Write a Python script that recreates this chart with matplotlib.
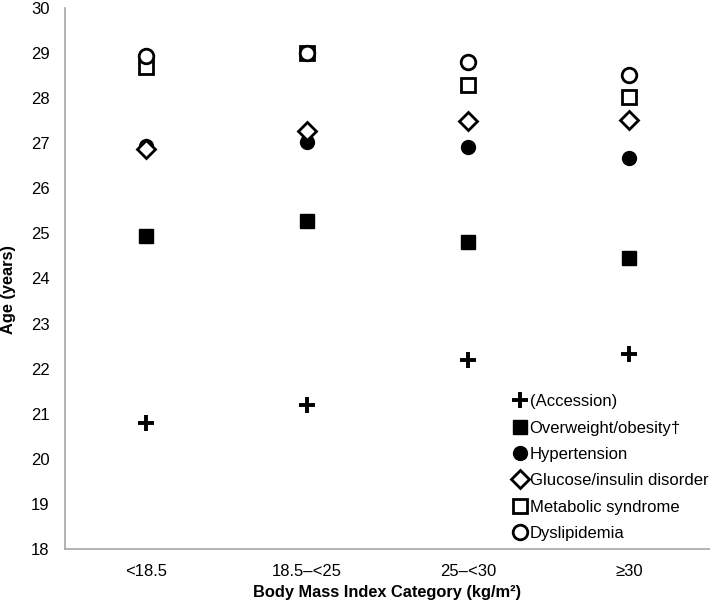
import matplotlib
matplotlib.use("Agg")
import matplotlib.pyplot as plt

plt.rcParams['font.family'] = ['Liberation Sans', 'DejaVu Sans']

categories = ["<18.5", "18.5\u2013<25", "25\u2013<30", "\u226530"]
accession = [20.79, 21.2, 22.2, 22.32]
overweight = [24.95, 25.27, 24.8, 24.45]
hypertension = [26.93, 27.02, 26.92, 26.67]
glucose = [26.88, 27.28, 27.5, 27.52]
metabolic = [28.7, 29.0, 28.3, 28.03]
dyslipidemia = [28.93, 29.0, 28.8, 28.52]

series = [
    ("(Accession)", accession, dict(marker='+', markersize=12, markeredgewidth=2.8, color='black')),
    ("Overweight/obesity\u2020", overweight, dict(marker='s', markersize=10.5, color='black', markeredgecolor='black')),
    ("Hypertension", hypertension, dict(marker='o', markersize=10, color='black', markeredgecolor='black')),
    ("Glucose/insulin disorder", glucose, dict(marker='D', markersize=9, markerfacecolor='white', markeredgecolor='black', markeredgewidth=2)),
    ("Metabolic syndrome", metabolic, dict(marker='s', markersize=10.5, markerfacecolor='white', markeredgecolor='black', markeredgewidth=2)),
    ("Dyslipidemia", dyslipidemia, dict(marker='o', markersize=10.5, markerfacecolor='white', markeredgecolor='black', markeredgewidth=2)),
]

fig = plt.figure(figsize=(7.10, 6.03), dpi=100)
ax = fig.add_axes([65/710, 1-549/603, 1-65/710, (549-8)/603])

x = list(range(len(categories)))
handles = []
for i, (label, vals, style) in enumerate(series):
    h, = ax.plot(x, vals, linestyle='none', label=label, zorder=3+i, clip_on=False, **style)
    handles.append(h)

ax.set_xlim(-0.5, len(categories)-0.5)
ax.set_ylim(18, 30)
ax.set_yticks(range(18, 31))
ax.set_xticks(x)
ax.set_xticklabels(categories)
ax.tick_params(axis='both', length=0, labelsize=12, colors='black')
ax.tick_params(axis='x', pad=11)
ax.tick_params(axis='y', pad=11)
for s in ['top', 'right']:
    ax.spines[s].set_visible(False)
for s in ['left', 'bottom']:
    ax.spines[s].set_color('#a6a6a6')
    ax.spines[s].set_linewidth(1.2)

ax.set_xlabel("Body Mass Index Category (kg/m\u00b2)", fontsize=11.8, fontweight='bold', va='center')
ax.xaxis.set_label_coords(0.5, (549-592)/541)
ax.set_ylabel("Age (years)", fontsize=11.8, fontweight='bold', va='center')
ax.yaxis.set_label_coords((9-65)/645, 1-(290-8)/541)

leg = ax.legend(handles=handles, loc='upper left', bbox_to_anchor=(0.697, 0.286),
                frameon=False, fontsize=12, handlelength=0.6, handletextpad=0.3,
                labelspacing=0.68, borderpad=0, borderaxespad=0)

fig.savefig("out.png", dpi=100)
